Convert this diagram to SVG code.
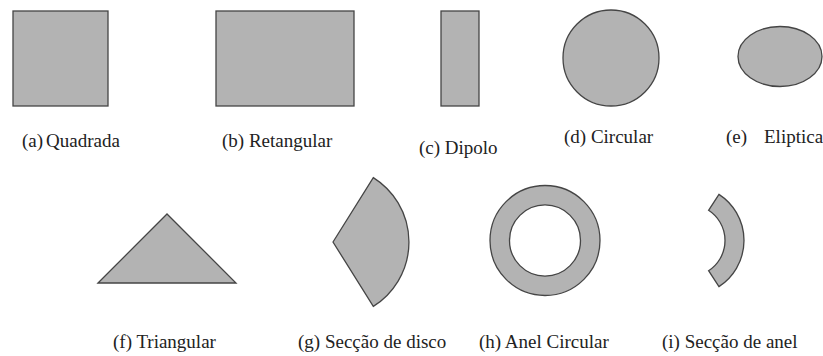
<svg xmlns="http://www.w3.org/2000/svg" width="823" height="356" viewBox="0 0 823 356">
<style>
.shape{fill:#b3b3b3;stroke:#454545;stroke-width:1.3;stroke-linejoin:miter}
text{font-family:'Liberation Serif','DejaVu Serif','Times New Roman',serif;font-size:19px;fill:#222}
</style>
<rect width="823" height="356" fill="#ffffff"/>
<g id="quadrada">
<rect class="shape" x="13" y="11" width="95" height="95"/>
<text x="22" y="147">(a)</text>
<text x="46" y="147">Quadrada</text>
</g>
<g id="retangular">
<rect class="shape" x="216" y="11" width="138" height="95"/>
<text x="222" y="147">(b) Retangular</text>
</g>
<g id="dipolo">
<rect class="shape" x="441" y="11" width="38" height="95"/>
<text x="419" y="154">(c) Dipolo</text>
</g>
<g id="circular">
<circle class="shape" cx="611" cy="58" r="48"/>
<text x="564" y="143">(d) Circular</text>
</g>
<g id="eliptica">
<ellipse class="shape" cx="780" cy="56.5" rx="42" ry="30"/>
<text x="726" y="143">(e)</text>
<text x="764" y="143">Eliptica</text>
</g>
<g id="triangular">
<polygon class="shape" points="98,283 167,214 236,283"/>
<text x="113" y="348">(f) Triangular</text>
</g>
<g id="seccao-disco">
<path class="shape" d="M333,242 L373.3,177.6 A76,76 0 0 1 373.3,306.4 Z"/>
<text x="298" y="348">(g) Secção de disco</text>
</g>
<g id="anel-circular">
<path class="shape" fill-rule="evenodd" d="M490,240.5 a55,55 0 1,0 110,0 a55,55 0 1,0 -110,0 Z M509.5,240.5 a35.5,35.5 0 1,0 71,0 a35.5,35.5 0 1,0 -71,0 Z"/>
<text x="479" y="348">(h) Anel Circular</text>
</g>
<g id="seccao-anel">
<path class="shape" d="M718.95,194.37 A55,55 0 0 1 718.95,286.63 L708.6,270.7 A36,36 0 0 0 708.6,210.3 Z"/>
<text x="662" y="348">(i) Secção de anel</text>
</g>
<g id="connectors"/>
</svg>
